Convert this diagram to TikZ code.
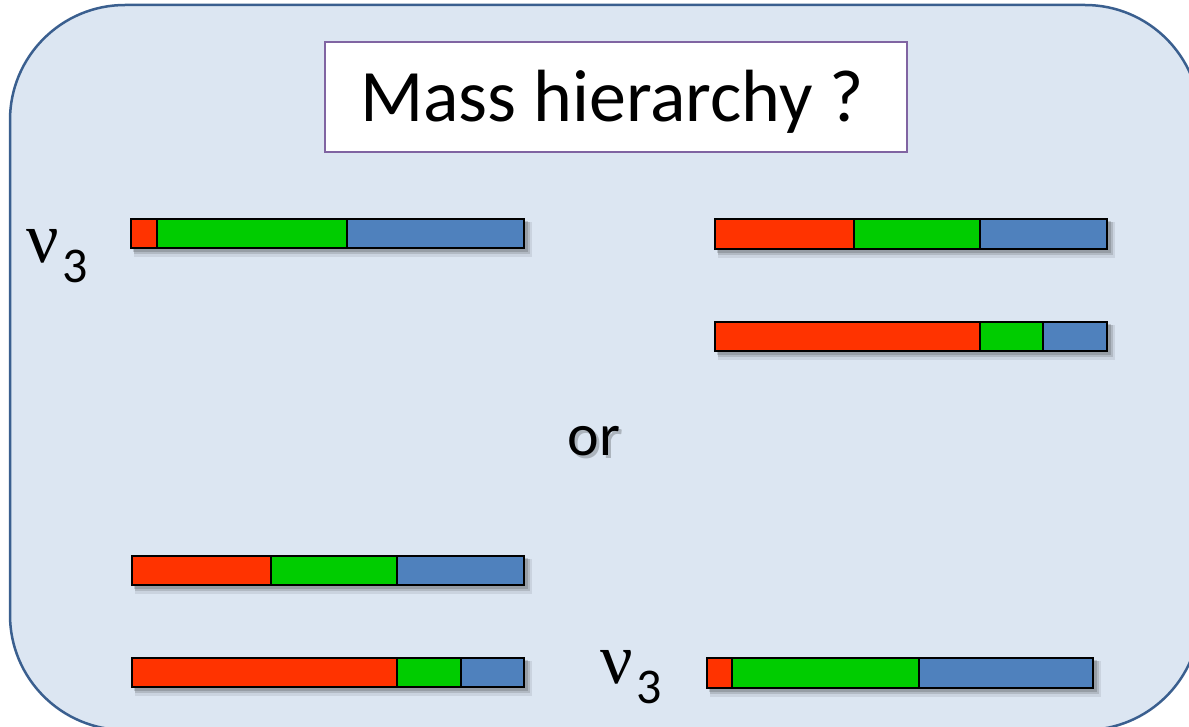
\documentclass[tikz,border=0pt]{standalone}
\usepackage{fontspec}
\setmainfont{Carlito}
\newfontfamily\nufont{Liberation Serif}
\definecolor{panelfill}{HTML}{DCE6F2}
\definecolor{panelline}{HTML}{3A5F8F}
\definecolor{titleline}{HTML}{8064A2}
\definecolor{barred}{HTML}{FF3300}
\definecolor{bargreen}{HTML}{00CC00}
\definecolor{barblue}{HTML}{4F81BD}
\colorlet{textshadow}{black!22!panelfill}
\tikzset{
  panel/.style={draw=panelline, fill=panelfill, line width=2.5pt, rounded corners=115pt},
  titlebox/.style={draw=titleline, fill=white, line width=2pt, minimum width=582pt, minimum height=110pt, inner sep=0pt},
  bigtext/.style={font=\fontsize{74}{80}\selectfont, inner sep=0pt},
  ortext/.style={font=\fontsize{60}{66}\selectfont, inner sep=0pt},
  nulabel/.style={inner sep=0pt, anchor=base west},
  barframe/.style={draw=black, line width=2.8pt},
  bardiv/.style={draw=black, line width=1.6pt},
}
\newcommand\nusub{{\nufont\fontsize{72}{72}\selectfont ν}\kern4pt\lower20pt\hbox{\fontsize{50}{50}\selectfont 3}}
\newcommand\shadowtext[1]{\rlap{\kern3pt\lower3pt\hbox{\color{textshadow}#1}}#1}
% #1..#4: x0 x1 x2 x3, #5 top, #6 bottom
\newcommand\massbar[6]{%
  \fill[black, opacity=0.08] (#1+3,#5+3) rectangle (#4+8,#6+9);
  \fill[black, opacity=0.12] (#1+3,#5+3) rectangle (#4+6,#6+6);
  \fill[black, opacity=0.15] (#1+2,#5+2) rectangle (#4+4,#6+4);
  \fill[barred] (#1,#5) rectangle (#2,#6);
  \fill[bargreen] (#2,#5) rectangle (#3,#6);
  \fill[barblue] (#3,#5) rectangle (#4,#6);
  \draw[bardiv] (#2,#5) -- (#2,#6);
  \draw[bardiv] (#3,#5) -- (#3,#6);
  \draw[barframe] (#1,#5) rectangle (#4,#6);
}
\begin{document}
\begin{tikzpicture}[x=1pt, y=-1pt]
\useasboundingbox (0,0) rectangle (1189,727);
\clip (0,0) rectangle (1189,727);
\draw[panel] (10,5) rectangle (1200,730);
\node[titlebox] (title) at (616,97) {};
\node[bigtext, anchor=base] (titletext) at (612,122) {Mass hierarchy ?};
% bars
\massbar{131}{157}{347}{524}{219}{248}
\massbar{715}{854}{980}{1107}{219}{249}
\massbar{715}{980}{1043}{1107}{322}{351}
\massbar{132}{271}{397}{524}{556}{585}
\massbar{132}{397}{461}{524}{658}{687}
\massbar{707}{732}{919}{1093}{658}{688}
% or
\node[ortext, anchor=base] (or) at (594,455) {\shadowtext{or}};
% nu labels
\node[nulabel] (nuA) at (26,263) {\nusub};
\node[nulabel] (nuB) at (600,683) {\nusub};
\end{tikzpicture}
\end{document}
